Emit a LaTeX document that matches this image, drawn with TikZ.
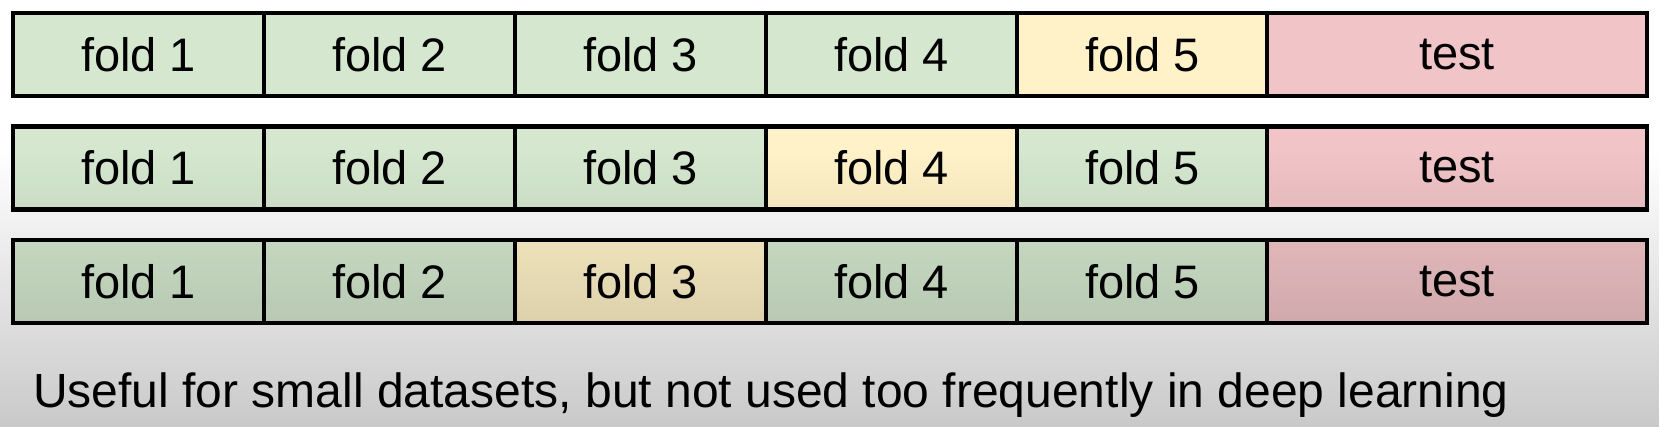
\documentclass[tikz,border=0pt]{standalone}
\usepackage{fontspec}
\setmainfont{Liberation Sans}
\usetikzlibrary{fadings}
\definecolor{cgreen}{RGB}{213,232,207}
\definecolor{cyellow}{RGB}{255,242,200}
\definecolor{cpink}{RGB}{241,196,199}
\tikzfading[name=fadedown, top color=transparent!100, bottom color=transparent!0]
\tikzset{
  cell/.style={draw=black, line width=4.5pt, minimum height=83pt, inner sep=0pt, outer sep=0pt,
    font=\fontsize{47}{56}\selectfont, text=black},
  foldcell/.style={cell, minimum width=251pt},
  testcell/.style={cell, minimum width=380pt, fill=cpink},
}
\begin{document}
\begin{tikzpicture}[x=1pt,y=-1pt]
\useasboundingbox (0,0) rectangle (1660,427);
\fill[white] (0,0) rectangle (1660,427);
\foreach \r/\y/\v in {1/54.5/5, 2/168/4, 3/281.5/3}{
  \foreach \c in {1,...,5}{
    \pgfmathsetmacro{\xc}{13+251*(\c-1)+125.5}
    \ifnum\c=\v
      \node[foldcell, fill=cyellow] (r\r c\c) at (\xc,\y) {fold \c};
    \else
      \node[foldcell, fill=cgreen] (r\r c\c) at (\xc,\y) {fold \c};
    \fi
  }
  \node[testcell] (r\r t) at (1457,\y) {test};
}
\node[anchor=base west, inner sep=0pt, font=\fontsize{48}{58}\selectfont] (note) at (33,407)
  {Useful for small datasets, but not used too frequently in deep learning};
\fill[black, fill opacity=0.21, path fading=fadedown] (0,150) rectangle (1660,427);
\end{tikzpicture}
\end{document}
